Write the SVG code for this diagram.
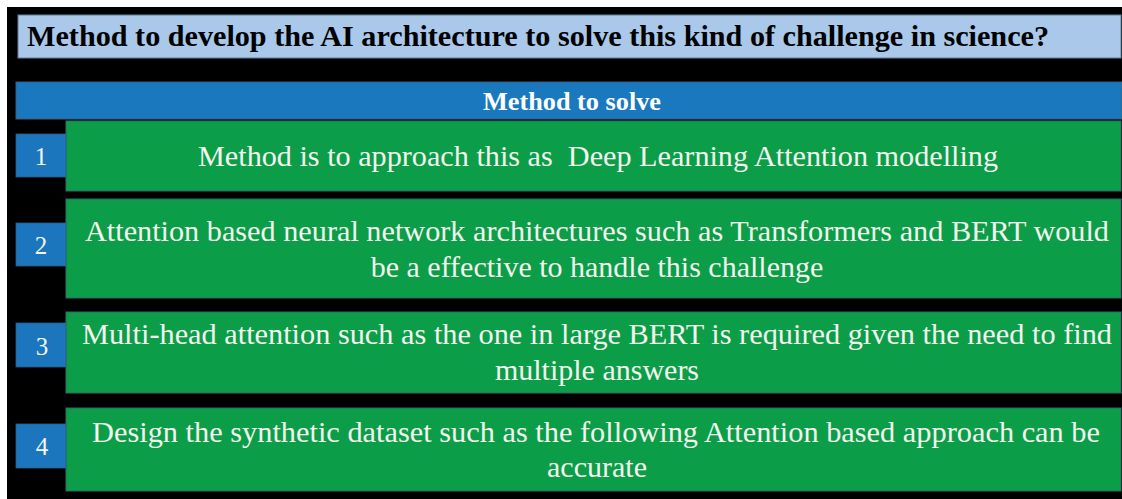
<svg xmlns="http://www.w3.org/2000/svg" width="1122" height="499" viewBox="0 0 1122 499">
  <style>
    .title { font-family: "Liberation Serif", "Times New Roman", serif; font-weight: bold; font-size: 30px; fill: #000000; }
    .head { font-family: "Liberation Serif", "Times New Roman", serif; font-weight: bold; font-size: 26px; fill: #ffffff; }
    .body { font-family: "Liberation Serif", "Times New Roman", serif; font-size: 30px; fill: #f2f5ee; text-anchor: middle; white-space: pre; }
    .num { font-family: "Liberation Serif", "Times New Roman", serif; font-size: 25px; fill: #f2f5ee; text-anchor: middle; }
    .bar-light { fill: #a9c8ea; stroke: #5f7f9c; stroke-width: 1; }
    .bar-blue { fill: #1a78be; stroke: #3b5f7c; stroke-width: 1; }
    .row { fill: #0c9d48; stroke: #2f6a68; stroke-width: 1; }
    .badge { fill: #1b76bd; stroke: #2e5c80; stroke-width: 0.8; }
  </style>

  <!-- page background -->
  <rect x="0" y="0" width="1122" height="499" fill="#ffffff"/>
  <rect x="7" y="7" width="1115" height="492" fill="#000000"/>

  <!-- title banner -->
  <g id="title">
    <rect class="bar-light" x="18" y="15" width="1103" height="43"/>
    <text class="title" x="27" y="46" textLength="1022" lengthAdjust="spacingAndGlyphs">Method to develop the AI architecture to solve this kind of challenge in science?</text>
  </g>

  <!-- table header -->
  <g id="header">
    <rect class="bar-blue" x="16" y="82" width="1106" height="37"/>
    <text class="head" x="572" y="110" text-anchor="middle" textLength="178" lengthAdjust="spacingAndGlyphs">Method to solve</text>
  </g>

  <!-- step 1 -->
  <g id="step1">
    <rect class="row" x="66" y="121" width="1055" height="70"/>
    <rect class="badge" x="16" y="134" width="50" height="43"/>
    <text class="num" x="41" y="165">1</text>
    <text class="body" x="598" y="166" textLength="800" lengthAdjust="spacingAndGlyphs" xml:space="preserve">Method is to approach this as  Deep Learning Attention modelling</text>
  </g>

  <!-- step 2 -->
  <g id="step2">
    <rect class="row" x="66" y="199" width="1055" height="99"/>
    <rect class="badge" x="16" y="223" width="50" height="43"/>
    <text class="num" x="41" y="254">2</text>
    <text class="body" x="597" y="241" textLength="1024" lengthAdjust="spacingAndGlyphs">Attention based neural network architectures such as Transformers and BERT would</text>
    <text class="body" x="597" y="277">be a effective to handle this challenge</text>
  </g>

  <!-- step 3 -->
  <g id="step3">
    <rect class="row" x="66" y="312" width="1055" height="81"/>
    <rect class="badge" x="16" y="323" width="50" height="44"/>
    <text class="num" x="42" y="355">3</text>
    <text class="body" x="597" y="344" textLength="1030" lengthAdjust="spacingAndGlyphs">Multi-head attention such as the one in large BERT is required given the need to find</text>
    <text class="body" x="597" y="380">multiple answers</text>
  </g>

  <!-- step 4 -->
  <g id="step4">
    <rect class="row" x="66" y="408" width="1055" height="83"/>
    <rect class="badge" x="16" y="424" width="50" height="44"/>
    <text class="num" x="42" y="455">4</text>
    <text class="body" x="596" y="442" textLength="1008" lengthAdjust="spacingAndGlyphs">Design the synthetic dataset such as the following Attention based approach can be</text>
    <text class="body" x="597" y="477">accurate</text>
  </g>

  <!-- no connectors in this layout -->
  <g id="connectors"/>
</svg>
